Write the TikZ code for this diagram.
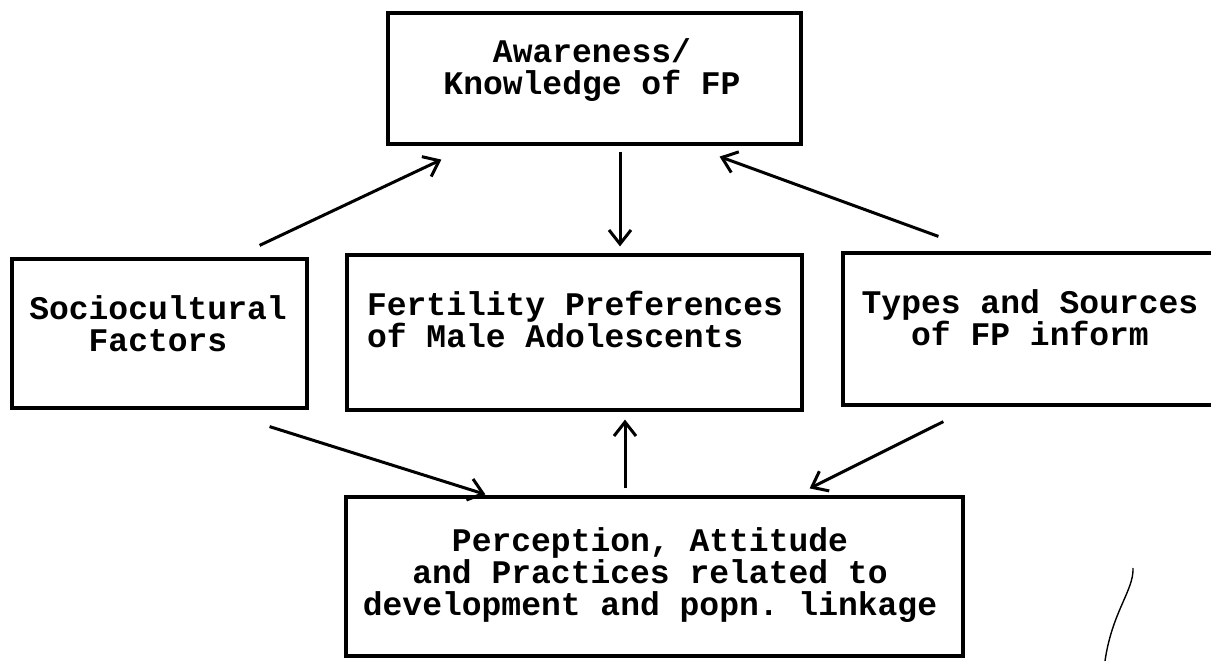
\documentclass[tikz,border=0pt]{standalone}
\usepackage{fontspec}
\setmonofont{Liberation Mono}
\usetikzlibrary{arrows.meta}
\begin{document}
\begin{tikzpicture}[x=1pt,y=-1pt,
  box/.style={draw,line width=3.2pt,inner sep=0pt},
  txt/.style={font=\ttfamily\bfseries\fontsize{33}{32}\selectfont,inner sep=0pt},
  arr/.style={line width=3pt,-{Straight Barb[length=14pt,width=22pt,line width=3pt]}},
  stray/.style={line width=1.4pt}
]
\useasboundingbox (0,0) rectangle (1211,661);
\clip (0,0) rectangle (1211,661);
% boxes
\node[box,minimum width=413pt,minimum height=131pt] (aw) at (594.5,78.5) {};
\node[box,minimum width=295pt,minimum height=149pt] (soc) at (159.5,333.5) {};
\node[box,minimum width=455pt,minimum height=155pt] (fert) at (574.5,332.5) {};
\node[box,minimum width=379pt,minimum height=152pt] (types) at (1032.5,329) {};
\node[box,minimum width=617pt,minimum height=159pt] (perc) at (654.5,576.5) {};
% texts
\node[txt,align=center] (awt) at (592,70) {Awareness/\\Knowledge of FP};
\node[txt,align=center] (soct) at (158,324) {Sociocultural\\Factors};
\node[txt,align=left] (fertt) at (575,319) {Fertility Preferences\\of Male Adolescents};
\node[txt,align=center] (typest) at (1030,318) {Types and Sources\\of FP inform};
\node[txt,align=center] (perct) at (650,575) {Perception, Attitude\\and Practices related to\\development and popn. linkage};
% connectors
\draw[arr] ([shift={(-49,-12)}]soc.north east) -- ([shift={(55,14)}]aw.south west);
\draw[arr] ([shift={(25.5,6)}]aw.south) -- ([shift={(45.5,-7)}]fert.north);
\draw[arr] ([shift={(97,-15)}]types.north west) -- ([shift={(-83,11)}]aw.south east);
\draw[arr] ([shift={(-39,17)}]soc.south east) -- ([shift={(141,-1)}]perc.north west);
\draw[arr] ([shift={(-29.5,-7)}]perc.north) -- ([shift={(50.5,8)}]fert.south);
\draw[arr] ([shift={(102,15)}]types.south west) -- ([shift={(-155,-7)}]perc.north east);
% stray pen mark
\draw[stray] (1133,568) .. controls (1134,590) and (1112,612) .. (1105,661);
\end{tikzpicture}
\end{document}
